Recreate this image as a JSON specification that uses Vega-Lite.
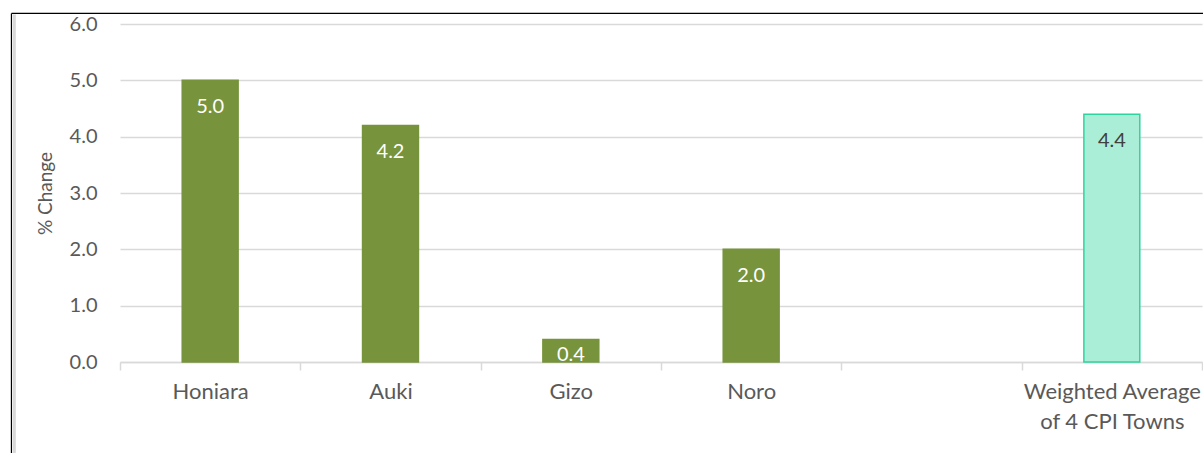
{
  "$schema": "https://vega.github.io/schema/vega-lite/v6.json",
  "width": 1082,
  "height": 338,
  "autosize": "none",
  "padding": {"left": 120, "top": 24, "right": 1, "bottom": 91},
  "background": "white",
  "config": {"view": {"stroke": null}, "font": "Lato"},
  "data": {"values": [
    {"town": "Honiara", "change": 5.0, "kind": "town"},
    {"town": "Auki", "change": 4.2, "kind": "town"},
    {"town": "Gizo", "change": 0.4, "kind": "town"},
    {"town": "Noro", "change": 2.0, "kind": "town"},
    {"town": "Weighted Average of 4 CPI Towns", "change": 4.4, "kind": "average"}
  ]},
  "layer": [
    {
      "layer": [
        {
          "mark": {"type": "bar", "width": {"band": 0.31}, "strokeWidth": 1.5},
          "encoding": {
            "x": {
              "field": "town", "type": "nominal", "sort": null,
              "scale": {"domain": ["Honiara", "Auki", "Gizo", "Noro", " ", "Weighted Average of 4 CPI Towns"], "paddingInner": 0, "paddingOuter": 0},
              "axis": {
                "title": null, "labelAngle": 0, "labelFontSize": 22, "labelColor": "#595959", "labelFont": "Lato",
                "labelPadding": 11, "labelLineHeight": 30,
                "labelExpr": "datum.value == 'Weighted Average of 4 CPI Towns' ? ['Weighted Average', 'of 4 CPI Towns'] : datum.value",
                "domainColor": "#d9d9d9", "domainWidth": 1.5, "tickColor": "#d9d9d9", "tickWidth": 1.5, "tickSize": 8,
                "tickBand": "extent", "labelOverlap": false, "labelBound": false, "grid": false
              }
            },
            "y": {
              "field": "change", "type": "quantitative",
              "scale": {"domain": [0, 6], "nice": false},
              "axis": {
                "title": "% Change", "titleFontSize": 19, "titleColor": "#595959", "titleFontWeight": "normal", "titleFont": "Lato",
                "titlePadding": 14, "labelFontSize": 20, "labelColor": "#595959", "labelFont": "Lato", "labelPadding": 23,
                "domain": false, "ticks": false, "gridColor": "#d9d9d9", "gridWidth": 1.5,
                "values": [0, 1, 2, 3, 4, 5, 6], "format": ".1f"
              }
            },
            "color": {"field": "kind", "type": "nominal", "scale": {"domain": ["town", "average"], "range": ["#77933C", "#abeed8"]}, "legend": null},
            "stroke": {"field": "kind", "type": "nominal", "scale": {"domain": ["town", "average"], "range": ["#77933C", "#2fd3a0"]}, "legend": null}
          }
        },
        {
          "transform": [{"filter": "datum.town != 'Gizo'"}],
          "mark": {"type": "text", "dy": 27, "baseline": "middle", "fontSize": 20, "font": "Lato"},
          "encoding": {
            "x": {"field": "town", "type": "nominal", "sort": null},
            "y": {"field": "change", "type": "quantitative"},
            "text": {"field": "change", "type": "quantitative", "format": ".1f"},
            "color": {"condition": {"test": "datum.kind == 'average'", "value": "#404040"}, "value": "#ffffff"}
          }
        },
        {
          "transform": [{"filter": "datum.town == 'Gizo'"}],
          "mark": {"type": "text", "dy": 16, "baseline": "middle", "fontSize": 20, "font": "Lato", "color": "#ffffff"},
          "encoding": {
            "x": {"field": "town", "type": "nominal", "sort": null},
            "y": {"field": "change", "type": "quantitative"},
            "text": {"field": "change", "type": "quantitative", "format": ".1f"}
          }
        }
      ]
    },
    {
      "data": {"values": [{}]},
      "mark": {"type": "rule", "color": "#000000", "strokeWidth": 1.2},
      "encoding": {
        "x": {"datum": -0.602, "type": "quantitative", "scale": {"domain": [0, 6], "nice": false, "zero": false}, "axis": null},
        "x2": {"datum": 7},
        "y": {"datum": 6.187, "type": "quantitative", "scale": {"domain": [0, 6], "nice": false}}
      }
    },
    {
      "data": {"values": [{}]},
      "mark": {"type": "rule", "color": "#000000", "strokeWidth": 1.2},
      "encoding": {
        "x": {"datum": -0.602, "type": "quantitative", "scale": {"domain": [0, 6], "nice": false, "zero": false}, "axis": null},
        "y": {"datum": 6.187, "type": "quantitative", "scale": {"domain": [0, 6], "nice": false}},
        "y2": {"datum": -2}
      }
    },
    {
      "data": {"values": [{}]},
      "mark": {"type": "rule", "color": "#d9d9d9", "strokeWidth": 3},
      "encoding": {
        "x": {"datum": -0.586, "type": "quantitative", "scale": {"domain": [0, 6], "nice": false, "zero": false}, "axis": null},
        "y": {"datum": 6.17, "type": "quantitative", "scale": {"domain": [0, 6], "nice": false}},
        "y2": {"datum": -2}
      }
    }
  ],
  "resolve": {"scale": {"x": "independent"}}
}
